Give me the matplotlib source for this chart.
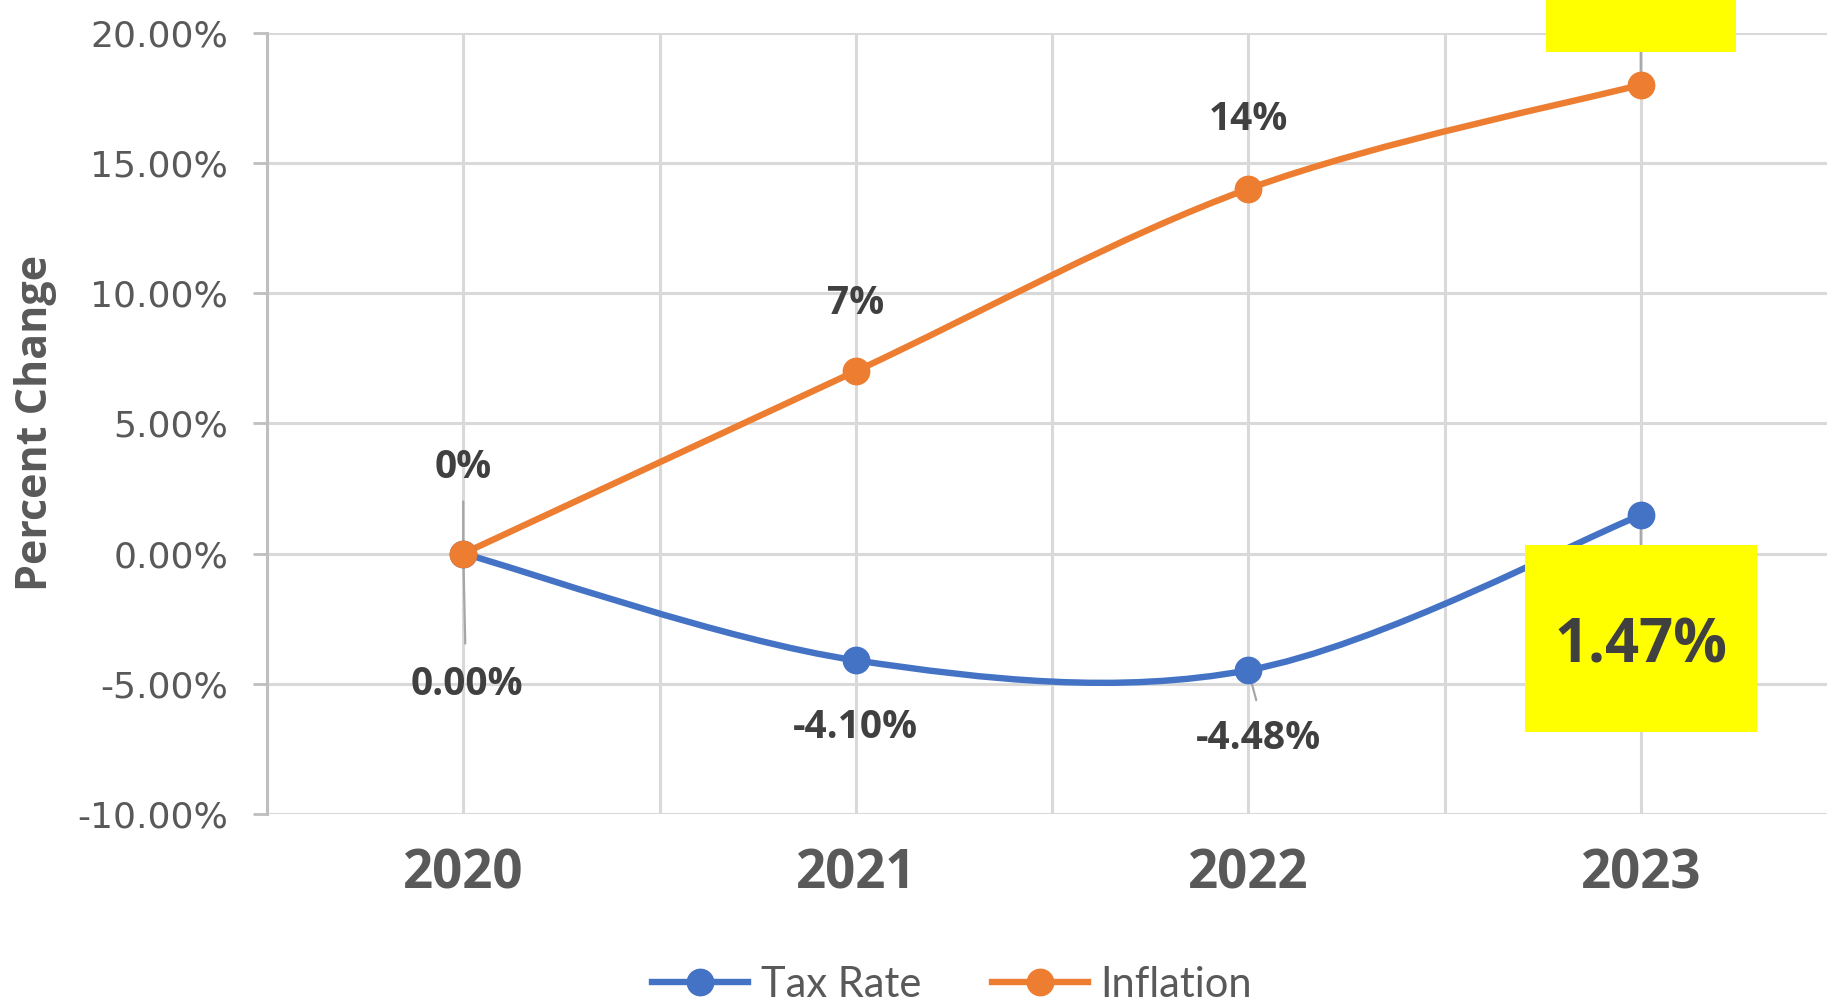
import numpy as np
import matplotlib
matplotlib.use("Agg")
import matplotlib.pyplot as plt
from matplotlib.path import Path
from matplotlib.patches import PathPatch, Rectangle
from matplotlib.lines import Line2D
from matplotlib.ticker import FuncFormatter, MultipleLocator

years = ["2020", "2021", "2022", "2023"]
tax_rate = [0.00, -4.10, -4.48, 1.47]
inflation = [0, 7, 14, 18]
tax_labels = ["0.00%", "-4.10%", "-4.48%", "1.47%"]
inflation_labels = ["0%", "7%", "14%", "18%"]
y_ticks = [-10, -5, 0, 5, 10, 15, 20]

BLUE = "#4472C4"
ORANGE = "#ED7D31"
GRID = "#D9D9D9"
AXIS_GREY = "#595959"
LABEL_GREY = "#404040"
LEADER = "#A6A6A6"
HIGHLIGHT = "#FFFF00"

W, H, DPI = 1827, 1007, 100
BOLD_FONT = ["Open Sans", "DejaVu Sans"]


def smooth_path(xs, ys):
    # excel style smoothed line: cubic bezier with catmull-rom control points
    pts = np.column_stack([xs, ys]).astype(float)
    padded = np.vstack([pts[0], pts, pts[-1]])
    verts = [pts[0]]
    codes = [Path.MOVETO]
    for i in range(len(pts) - 1):
        p0, p1, p2, p3 = padded[i], padded[i + 1], padded[i + 2], padded[i + 3]
        verts += [p1 + (p2 - p0) / 6, p2 - (p3 - p1) / 6, p2]
        codes += [Path.CURVE4] * 3
    return Path(verts, codes)


def leader(ax, x, y, dx, dy):
    ax.annotate("", xy=(x, y), xytext=(dx, dy), textcoords="offset pixels",
                arrowprops=dict(arrowstyle="-", color=LEADER, lw=1.6,
                                shrinkA=0, shrinkB=0), zorder=2)


def label(ax, text, x, y, dx, dy, size=28):
    ax.annotate(text, xy=(x, y), xytext=(dx, dy), textcoords="offset pixels",
                ha="center", va="center", fontsize=size, fontweight="bold",
                family=BOLD_FONT, color=LABEL_GREY, zorder=7)


def boxed_label(ax, text, x, y, dy, width_px, height_px, text_shift=-9):
    # yellow call-out box, centred dy pixels from the data point
    cx, cy = ax.transData.transform((x, y))
    cy += dy
    inv = ax.transData.inverted()
    x0, y0 = inv.transform((cx - width_px / 2, cy - height_px / 2))
    x1, y1 = inv.transform((cx + width_px / 2, cy + height_px / 2))
    ax.add_patch(Rectangle((x0, y0), x1 - x0, y1 - y0, facecolor=HIGHLIGHT,
                           edgecolor="none", zorder=5, clip_on=False))
    label(ax, text, x, y, 0, dy + text_shift, size=43)


fig = plt.figure(figsize=(W / DPI, H / DPI), dpi=DPI)
ax_left, ax_right = 267, 1837
ax_top, ax_bottom = 32.6, 814
ax = fig.add_axes([ax_left / W, (H - ax_bottom) / H,
                   (ax_right - ax_left) / W, (ax_bottom - ax_top) / H])

x = np.arange(len(years))
ax.set_xlim(-0.5, len(years) - 0.5)
ax.set_ylim(y_ticks[0], y_ticks[-1])

# grid
ax.set_yticks(y_ticks)
ax.set_xticks(x)
ax.xaxis.set_minor_locator(MultipleLocator(0.5))
ax.grid(True, which="both", axis="x", color=GRID, lw=2.2, zorder=0)
ax.grid(True, which="major", axis="y", color=GRID, lw=2.2, zorder=0)
ax.set_axisbelow(True)

for side in ["top", "right", "bottom"]:
    ax.spines[side].set_visible(False)
ax.spines["left"].set_color("#BFBFBF")
ax.spines["left"].set_linewidth(2.2)

ax.yaxis.set_major_formatter(FuncFormatter(lambda v, _: f"{v:.2f}%"))
ax.tick_params(axis="y", which="major", length=10, width=2, color="#BFBFBF",
               labelsize=26, labelcolor=AXIS_GREY, pad=18)
ax.set_xticklabels(years)
ax.tick_params(axis="x", which="both", length=0, pad=24)
for t in ax.get_xticklabels():
    t.set_fontsize(38)
    t.set_fontweight("bold")
    t.set_family(BOLD_FONT)
    t.set_color(AXIS_GREY)

fig.text(36 / W, (H - 423) / H, "Percent Change", rotation=90, ha="center",
         va="center", fontsize=31, fontweight="bold", family=BOLD_FONT,
         color=AXIS_GREY)

# series
for vals, color in [(tax_rate, BLUE), (inflation, ORANGE)]:
    ax.add_patch(PathPatch(smooth_path(x, vals), facecolor="none",
                           edgecolor=color, lw=4.6, capstyle="round", zorder=3))
    ax.plot(x, vals, linestyle="none", marker="o", markersize=19,
            color=color, zorder=4)

fig.canvas.draw()

# inflation labels
leader(ax, x[0], inflation[0], 0, 52)
label(ax, inflation_labels[0], x[0], inflation[0], 0, 86)
label(ax, inflation_labels[1], x[1], inflation[1], 0, 68)
label(ax, inflation_labels[2], x[2], inflation[2], 0, 69)
leader(ax, x[3], inflation[3], 0, 34)
boxed_label(ax, inflation_labels[3], x[3], inflation[3], 33 + 93.5, 190, 187)

# tax rate labels
leader(ax, x[0], tax_rate[0], 2, -90)
label(ax, tax_labels[0], x[0], tax_rate[0], 4, -131)
label(ax, tax_labels[1], x[1], tax_rate[1], 0, -67)
leader(ax, x[2], tax_rate[2], 8, -30)
label(ax, tax_labels[2], x[2], tax_rate[2], 10, -68)
leader(ax, x[3], tax_rate[3], 0, -30)
boxed_label(ax, tax_labels[3], x[3], tax_rate[3], -123, 232, 187)

handles = [Line2D([], [], color=BLUE, lw=4.6, marker="o", markersize=19),
           Line2D([], [], color=ORANGE, lw=4.6, marker="o", markersize=19)]
fig.legend(handles, ["Tax Rate", "Inflation"], loc="center",
           bbox_to_anchor=(952 / W, 22 / H), ncol=2, frameon=False,
           prop={"family": "Lato", "size": 30}, labelcolor=AXIS_GREY,
           handlelength=2.3, handletextpad=0.3, columnspacing=1.7)

fig.savefig("out.png", dpi=DPI)
